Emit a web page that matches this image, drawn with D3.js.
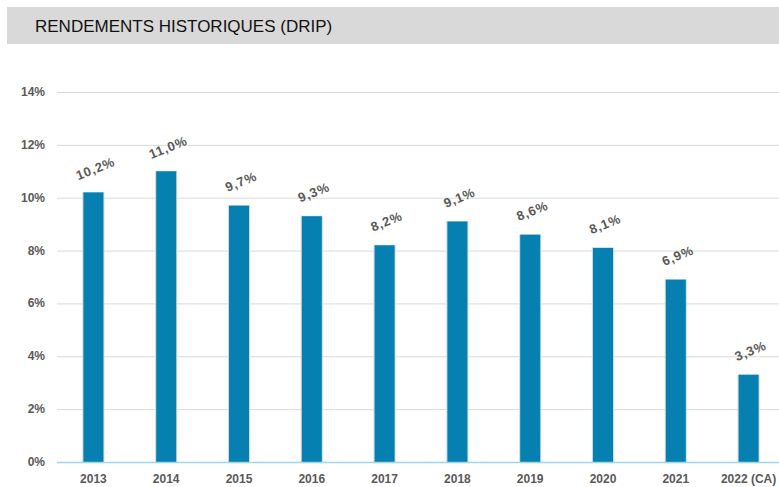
<!DOCTYPE html>
<html>
<head>
<meta charset="utf-8">
<script src="https://cdn.jsdelivr.net/npm/d3@7"></script>
<style>
  body { margin: 0; background: #fff; }
  text { font-family: "Liberation Sans", Arial, sans-serif; }
</style>
</head>
<body>
<script>
// data
var years = ["2013", "2014", "2015", "2016", "2017", "2018", "2019", "2020", "2021", "2022 (CA)"];
var returns = [10.2, 11.0, 9.7, 9.3, 8.2, 9.1, 8.6, 8.1, 6.9, 3.3];
var yTicks = [0, 2, 4, 6, 8, 10, 12, 14];

var width = 779;
var height = 487;

var svg = d3.select("body")
    .append("svg")
        .attr("width", width)
        .attr("height", height);

// title bar
svg.append("rect")
    .attr("x", 7)
    .attr("y", 7)
    .attr("width", width - 7)
    .attr("height", 37)
    .attr("fill", "#d9d9d9");
svg.append("text")
    .attr("x", 35)
    .attr("y", 32)
    .attr("font-size", 17)
    .attr("fill", "#111")
    .text("RENDEMENTS HISTORIQUES (DRIP)");

//Scales
var x = d3.scaleBand()
    .domain(years)
    .range([57, 785])
    .paddingInner(0.725)
    .paddingOuter(0.3625);

var y = d3.scaleLinear()
    .domain([0, 14])
    .range([462, 92]);

// gridlines
svg.selectAll("line.grid")
    .data(yTicks.filter(d => d > 0))
    .enter()
    .append("line")
        .attr("class", "grid")
        .attr("x1", 57)
        .attr("x2", width)
        .attr("y1", d => y(d) + 0.5)
        .attr("y2", d => y(d) + 0.5)
        .attr("stroke", "#d9d9d9")
        .attr("stroke-width", 1);

// y labels
svg.selectAll("text.ylab")
    .data(yTicks)
    .enter()
    .append("text")
        .attr("class", "ylab")
        .attr("x", 45)
        .attr("y", d => y(d) + 4)
        .attr("text-anchor", "end")
        .attr("font-size", 12)
        .attr("font-weight", "bold")
        .attr("fill", "#595959")
        .text(d => d + "%");

// bars
var bw = 20;
svg.selectAll("rect.shadow")
    .data(returns)
    .enter()
    .append("rect")
        .attr("class", "shadow")
        .attr("x", (d, i) => x(years[i]) + x.bandwidth() / 2 - bw / 2 - 1)
        .attr("y", d => y(d) - 0.5)
        .attr("width", bw + 2)
        .attr("height", d => y(0) - y(d) + 0.5)
        .attr("fill", "#cfd8dc");
svg.selectAll("rect.bar")
    .data(returns)
    .enter()
    .append("rect")
        .attr("class", "bar")
        .attr("x", (d, i) => x(years[i]) + x.bandwidth() / 2 - bw / 2)
        .attr("y", d => y(d))
        .attr("width", bw)
        .attr("height", d => y(0) - y(d))
        .attr("fill", "#0580b0");

// baseline
svg.append("line")
    .attr("x1", 57)
    .attr("x2", width)
    .attr("y1", y(0) + 0.5)
    .attr("y2", y(0) + 0.5)
    .attr("stroke", "#9dd6ef")
    .attr("stroke-width", 1.5);

// x labels
svg.selectAll("text.xlab")
    .data(years)
    .enter()
    .append("text")
        .attr("class", "xlab")
        .attr("x", d => x(d) + x.bandwidth() / 2)
        .attr("y", 483)
        .attr("text-anchor", "middle")
        .attr("font-size", 12)
        .attr("font-weight", "bold")
        .attr("fill", "#595959")
        .text(d => d);

// value labels
svg.selectAll("text.val")
    .data(returns)
    .enter()
    .append("text")
        .attr("class", "val")
        .attr("transform", (d, i) => "translate(" + (x(years[i]) + x.bandwidth() / 2 + 2) + "," + (y(d) - 24) + ") rotate(-22)")
        .attr("text-anchor", "middle")
        .attr("dy", "0.35em")
        .attr("font-size", 13)
        .attr("letter-spacing", 0.8)
        .attr("font-weight", "bold")
        .attr("fill", "#595959")
        .text(d => d3.format(".1f")(d).replace(".", ",") + "%");
</script>
</body>
</html>
